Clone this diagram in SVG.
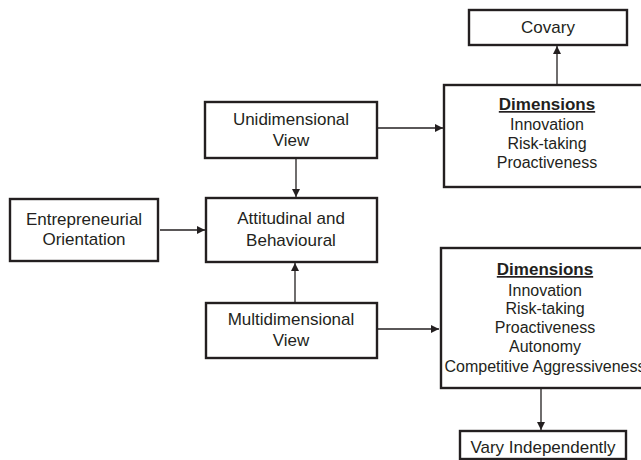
<svg xmlns="http://www.w3.org/2000/svg" width="641" height="460" viewBox="0 0 641 460">
<style>
.box{fill:#fff;stroke:#231f20;stroke-width:2.4}
.t{font-family:"Liberation Sans",Arial,sans-serif;font-size:17px;fill:#231f20;text-anchor:middle}
.d{font-family:"Liberation Sans",Arial,sans-serif;font-size:16px;fill:#231f20;text-anchor:middle}
.h{font-weight:bold;font-size:17px;text-decoration:underline}
.c{stroke:#231f20;stroke-width:1.3;fill:none;marker-end:url(#ah)}
</style>
<defs>
<marker id="ah" viewBox="0 0 10 10" refX="10" refY="5" markerWidth="8" markerHeight="8" markerUnits="userSpaceOnUse" orient="auto">
<path d="M0,0 L10,5 L0,10 z" fill="#231f20"/>
</marker>
</defs>
<g id="connectors">
<line class="c" x1="557" y1="85" x2="557" y2="46"/>
<line class="c" x1="377" y1="128" x2="443" y2="128"/>
<line class="c" x1="296" y1="158" x2="296" y2="197"/>
<line class="c" x1="160" y1="230" x2="205" y2="230"/>
<line class="c" x1="295" y1="303" x2="295" y2="263"/>
<line class="c" x1="377" y1="329" x2="439" y2="329"/>
<line class="c" x1="541" y1="388" x2="541" y2="430"/>
</g>
<g id="covary">
<rect class="box" x="469" y="10" width="158" height="35"/>
<text class="t" x="548" y="33">Covary</text>
</g>
<g id="dimensions1">
<rect class="box" x="444" y="85" width="210" height="102"/>
<text class="d h" x="547" y="110">Dimensions</text>
<text class="d" x="547" y="130">Innovation</text>
<text class="d" x="547" y="149">Risk-taking</text>
<text class="d" x="547" y="168">Proactiveness</text>
</g>
<g id="unidimensional">
<rect class="box" x="205" y="102" width="172" height="56"/>
<text class="t" x="291" y="125">Unidimensional</text>
<text class="t" x="291" y="146">View</text>
</g>
<g id="entrepreneurial">
<rect class="box" x="10" y="199" width="148" height="62"/>
<text class="t" x="84" y="225">Entrepreneurial</text>
<text class="t" x="84" y="245">Orientation</text>
</g>
<g id="attitudinal">
<rect class="box" x="206" y="198" width="171" height="64"/>
<text class="t" x="291" y="224">Attitudinal and</text>
<text class="t" x="291" y="246">Behavioural</text>
</g>
<g id="multidimensional">
<rect class="box" x="206" y="303" width="171" height="55"/>
<text class="t" x="291" y="325">Multidimensional</text>
<text class="t" x="291" y="346">View</text>
</g>
<g id="dimensions2">
<rect class="box" x="441" y="248" width="210" height="140"/>
<text class="d h" x="545" y="275">Dimensions</text>
<text class="d" x="545" y="296">Innovation</text>
<text class="d" x="545" y="314">Risk-taking</text>
<text class="d" x="545" y="333">Proactiveness</text>
<text class="d" x="545" y="352">Autonomy</text>
<text class="d" x="545" y="372">Competitive Aggressiveness</text>
</g>
<g id="vary">
<rect class="box" x="460" y="431" width="166" height="28"/>
<text class="t" x="543" y="453">Vary Independently</text>
</g>
</svg>
